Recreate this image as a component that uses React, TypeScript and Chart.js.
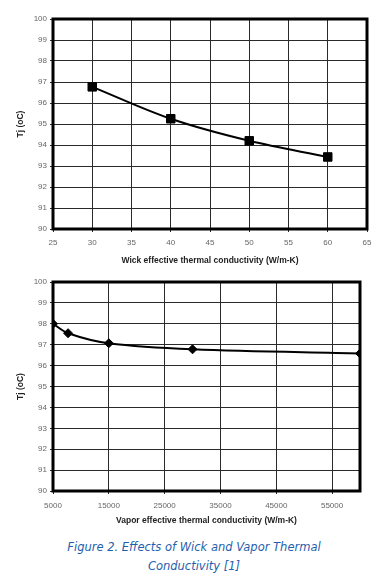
import React, { useEffect, useRef } from "react";
import { Chart, registerables } from "chart.js";

Chart.register(...registerables);

const wickX = [30, 40, 50, 60];
const wickTj = [96.77, 95.25, 94.2, 93.43];
const wickXTicks = [25, 30, 35, 40, 45, 50, 55, 60, 65];

const vaporX = [5000, 7700, 15000, 30000, 60000];
const vaporTj = [98.0, 97.55, 97.07, 96.78, 96.58];
const vaporXTicks = [5000, 15000, 25000, 35000, 45000, 55000];

const yTicks = [90, 91, 92, 93, 94, 95, 96, 97, 98, 99, 100];

const frame = {
  id: "frame",
  beforeDatasetsDraw(chart: any) {
    const { ctx, chartArea: a } = chart;
    ctx.save();
    ctx.strokeStyle = "#000";
    ctx.lineWidth = 3;
    ctx.strokeRect(a.left, a.top, a.right - a.left, a.bottom - a.top);
    ctx.restore();
  },
};

function makeConfig(opts: {
  xs: number[];
  ys: number[];
  xTicks: number[];
  xMin: number;
  xMax: number;
  title: string;
  pointStyle: string;
  radius: number;
  padding: any;
  yWidth: number;
  xHeight: number;
  xTickPad: number;
}) {
  const tickFont = { family: "'Liberation Sans', Arial, sans-serif", size: 8 };
  const titleFont = { family: "'Liberation Sans', Arial, sans-serif", size: 8.5, weight: "bold" as const };
  return {
    type: "line" as const,
    data: {
      datasets: [
        {
          data: opts.xs.map((x, i) => ({ x, y: opts.ys[i] })),
          borderColor: "#000",
          backgroundColor: "#000",
          borderWidth: 2,
          tension: 0.35,
          pointStyle: opts.pointStyle,
          pointRadius: opts.radius,
          pointBorderWidth: 1,
          pointBackgroundColor: "#000",
          pointBorderColor: "#000",
        },
      ],
    },
    options: {
      animation: false,
      responsive: false,
      maintainAspectRatio: false,
      layout: { padding: opts.padding },
      plugins: { legend: { display: false }, tooltip: { enabled: false } },
      scales: {
        x: {
          type: "linear" as const,
          min: opts.xMin,
          max: opts.xMax,
          afterBuildTicks: (s: any) => {
            s.ticks = opts.xTicks.map((v) => ({ value: v }));
          },
          afterFit: (s: any) => {
            s.height = opts.xHeight;
          },
          grid: { color: "#2a2a2a", lineWidth: 1, tickLength: 3, tickColor: "#2a2a2a" },
          border: { display: false },
          ticks: {
            color: "#666",
            font: tickFont,
            padding: opts.xTickPad,
            maxRotation: 0,
            autoSkip: false,
            callback: (v: any) => String(v),
          },
          title: { display: true, text: opts.title, color: "#222", font: titleFont, padding: { top: 4, bottom: 0 } },
        },
        y: {
          type: "linear" as const,
          min: 90,
          max: 100,
          afterBuildTicks: (s: any) => {
            s.ticks = yTicks.map((v) => ({ value: v }));
          },
          afterFit: (s: any) => {
            s.width = opts.yWidth;
          },
          grid: { color: "#2a2a2a", lineWidth: 1, tickLength: 3, tickColor: "#2a2a2a" },
          border: { display: false },
          ticks: { color: "#666", font: tickFont, padding: 3, autoSkip: false, callback: (v: any) => String(v) },
          title: { display: true, text: "Tj (oC)", color: "#222", font: titleFont, padding: { top: 0, bottom: 3 } },
        },
      },
    },
    plugins: [frame],
  };
}

function ChartCanvas({ config, width, height, top }: any) {
  const ref = useRef<HTMLCanvasElement | null>(null);
  useEffect(() => {
    if (!ref.current) return;
    const c = new Chart(ref.current, config);
    return () => c.destroy();
  }, []);
  return (
    <canvas
      ref={ref}
      width={width}
      height={height}
      style={{ position: "absolute", left: 0, top, width, height }}
    />
  );
}

export default function App() {
  const topCfg = makeConfig({
    xs: wickX,
    ys: wickTj,
    xTicks: wickXTicks,
    xMin: 25,
    xMax: 65,
    title: "Wick effective thermal conductivity (W/m-K)",
    pointStyle: "rect",
    radius: 6,
    padding: { left: 16, right: 16, top: 19, bottom: 4 },
    yWidth: 37,
    xHeight: 37,
    xTickPad: 6,
  });
  const botCfg = makeConfig({
    xs: vaporX,
    ys: vaporTj,
    xTicks: vaporXTicks,
    xMin: 5000,
    xMax: 60000,
    title: "Vapor effective thermal conductivity (W/m-K)",
    pointStyle: "rectRot",
    radius: 4.5,
    padding: { left: 16, right: 23, top: 12, bottom: 4 },
    yWidth: 37,
    xHeight: 35,
    xTickPad: 7,
  });
  return (
    <div style={{ position: "absolute", left: 0, top: 0, width: 383, height: 584, background: "#fff" }}>
      <ChartCanvas config={topCfg} width={383} height={270} top={0} />
      <ChartCanvas config={botCfg} width={383} height={260} top={270} />
      <div
        style={{
          position: "absolute",
          left: 0,
          width: 388,
          top: 538,
          textAlign: "center",
          fontFamily: "'DejaVu Sans', Verdana, sans-serif",
          fontStyle: "italic",
          fontSize: 11.5,
          lineHeight: "19px",
          color: "#1f5fae",
        }}
      >
        Figure 2. Effects of Wick and Vapor Thermal
        <br />
        Conductivity [1]
      </div>
    </div>
  );
}
